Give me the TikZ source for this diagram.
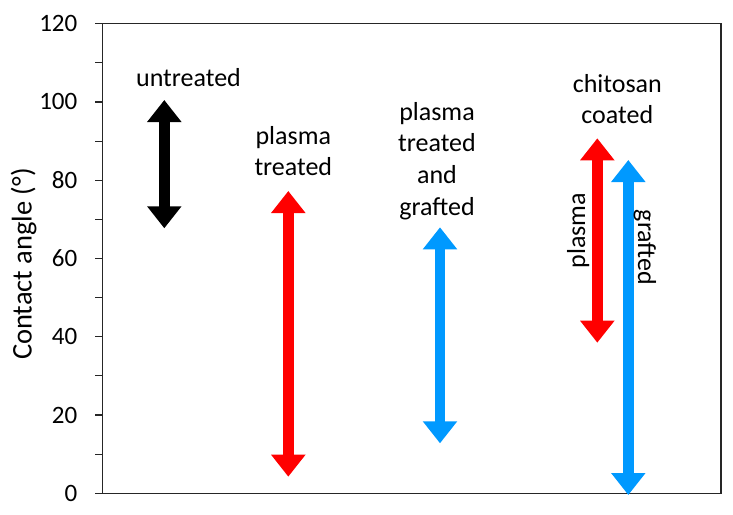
\documentclass[tikz,border=0pt]{standalone}
\usepackage{fontspec}
\setmainfont{Carlito}
\usetikzlibrary{arrows.meta}
\tikzset{
  axisline/.style={draw=black!85, line width=1.3pt},
  tickline/.style={draw=black!85, line width=1.1pt},
  ticklabel/.style={anchor=east, inner sep=0pt, font=\fontsize{25}{30}\selectfont},
  lbl/.style={anchor=base, inner sep=0pt, font=\fontsize{26}{30}\selectfont},
  dbl/.style={line width=10.7pt, {Triangle[width=33pt,length=22pt]}-{Triangle[width=33pt,length=22pt]}},
}
\definecolor{myred}{RGB}{255,0,0}
\definecolor{myblue}{RGB}{0,153,255}
\begin{document}
\begin{tikzpicture}[x=1pt,y=-1pt]
\useasboundingbox (0,0) rectangle (733,514);
\draw[axisline] (102.7,23.7) rectangle (721,493.3);
\foreach \v in {0,10,...,120}{
  \draw[tickline] (95,{493.3-3.9133*\v}) -- (102.7,{493.3-3.9133*\v});
}
\foreach \v in {0,20,...,120}{
  \node[ticklabel] (t\v) at (77.5,{493.3-3.9133*\v}) {\v};
}
\node[anchor=base, rotate=90, inner sep=0pt, font=\fontsize{28.5}{30}\selectfont] (ylab) at (31.5,264) {Contact angle (°)};
% arrows
\coordinate (bk1) at (164.3,100);   \coordinate (bk2) at (164.3,228.3);
\coordinate (r1a) at (288.3,191);   \coordinate (r1b) at (288.3,476.7);
\coordinate (b1a) at (440,227.3);   \coordinate (b1b) at (440,443.3);
\coordinate (r2a) at (597.3,138.3); \coordinate (r2b) at (597.3,342.7);
\coordinate (b2a) at (628.3,160);   \coordinate (b2b) at (628.3,495);
\draw[dbl, black]  (bk1) -- (bk2);
\draw[dbl, myred]  (r1a) -- (r1b);
\draw[dbl, myblue] (b1a) -- (b1b);
\draw[dbl, myred]  (r2a) -- (r2b);
\draw[dbl, myblue] (b2a) -- (b2b);
% labels
\node[lbl] (l1) at (188.5,86.7) {untreated};
\node[lbl] (l2a) at (293.3,144.3) {plasma};
\node[lbl] (l2b) at (293.3,175) {treated};
\node[lbl] (l3a) at (437,120) {plasma};
\node[lbl] (l3b) at (437,151.7) {treated};
\node[lbl] (l3c) at (437,183.3) {and};
\node[lbl] (l3d) at (437,215) {grafted};
\node[lbl] (l4a) at (617.3,92.3) {chitosan};
\node[lbl] (l4b) at (617.3,123.3) {coated};
\node[lbl, rotate=90] (l5) at (585,230.5) {plasma};
\node[lbl, rotate=-90] (l6) at (638,247.5) {grafted};
\end{tikzpicture}
\end{document}
